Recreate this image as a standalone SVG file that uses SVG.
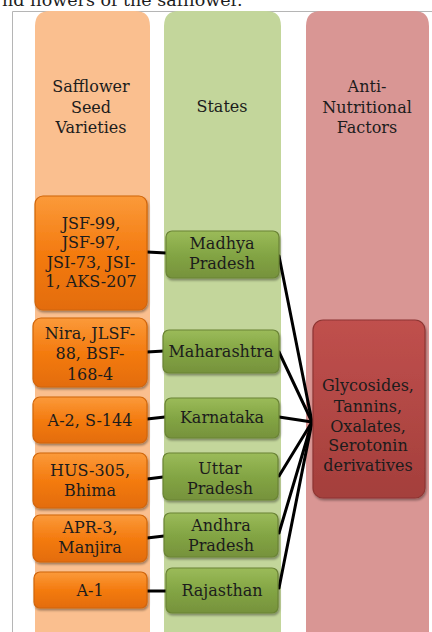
<svg xmlns="http://www.w3.org/2000/svg" width="432" height="632" viewBox="0 0 432 632">
<defs>
<linearGradient id="gO" x1="0" y1="0" x2="0" y2="1"><stop offset="0" stop-color="#FB9A3A"/><stop offset="0.5" stop-color="#F47B10"/><stop offset="1" stop-color="#E36C09"/></linearGradient>
<linearGradient id="gG" x1="0" y1="0" x2="0" y2="1"><stop offset="0" stop-color="#9BBB59"/><stop offset="0.5" stop-color="#83A544"/><stop offset="1" stop-color="#76923C"/></linearGradient>
<linearGradient id="gR" x1="0" y1="0" x2="0" y2="1"><stop offset="0" stop-color="#C0504D"/><stop offset="1" stop-color="#A43F3C"/></linearGradient>
<filter id="sh" x="-10%" y="-10%" width="130%" height="130%"><feDropShadow dx="1" dy="2" stdDeviation="1.2" flood-color="#000" flood-opacity="0.35"/></filter>
</defs>
<style>
text{font-family:"DejaVu Serif","Liberation Serif",serif;fill:#1c1c1c;text-anchor:middle;font-size:16px}
.ob{fill:url(#gO);stroke:#D0650A;stroke-width:1.2;filter:url(#sh)}
.gb{fill:url(#gG);stroke:#6A8435;stroke-width:1.2;filter:url(#sh)}
.rb{fill:url(#gR);stroke:#8E3532;stroke-width:1.2;filter:url(#sh)}
.c{stroke:#000;stroke-width:3;fill:none;stroke-linecap:round}
</style>
<rect width="432" height="632" fill="#fff"/>
<text x="2" y="6" style="text-anchor:start;font-size:17.5px">nd flowers of the safflower.</text>
<path d="M12.5 632 V11.5 H432" fill="none" stroke="#b5b5b5" stroke-width="1"/>
<g id="col-varieties">
<path d="M35 632 V26 Q35 11 50 11 H135 Q150 11 150 26 V632 Z" fill="#FABF8F"/>
<text x="91" y="92">Safflower</text>
<text x="91" y="113">Seed</text>
<text x="91" y="133">Varieties</text>
</g>
<g id="col-states">
<path d="M164 632 V26 Q164 11 179 11 H266 Q281 11 281 26 V632 Z" fill="#C3D69B"/>
<text x="222" y="112">States</text>
</g>
<g id="col-factors">
<path d="M306 632 V26 Q306 11 321 11 H414 Q429 11 429 26 V632 Z" fill="#D99694"/>
<text x="367" y="92">Anti-</text>
<text x="367" y="113">Nutritional</text>
<text x="367" y="133">Factors</text>
</g>
<g id="connectors">
<line class="c" x1="147" y1="252" x2="166" y2="253"/>
<line class="c" x1="147" y1="352" x2="164" y2="351"/>
<line class="c" x1="147" y1="419" x2="165" y2="417"/>
<line class="c" x1="147" y1="479" x2="163" y2="477"/>
<line class="c" x1="147" y1="538" x2="164" y2="536"/>
<line class="c" x1="147" y1="591" x2="166" y2="591"/>
<line class="c" x1="279" y1="256" x2="312" y2="422"/>
<line class="c" x1="279" y1="352" x2="312" y2="422"/>
<line class="c" x1="279" y1="417" x2="312" y2="422"/>
<line class="c" x1="279" y1="476" x2="312" y2="422"/>
<line class="c" x1="279" y1="533" x2="312" y2="422"/>
<line class="c" x1="279" y1="588" x2="312" y2="422"/>
</g>
<g id="v1"><rect class="ob" x="35" y="196" width="112" height="114" rx="8"/>
<text x="91" y="229">JSF-99,</text><text x="91" y="248">JSF-97,</text><text x="91" y="268">JSI-73,  JSI-</text><text x="91" y="287">1, AKS-207</text></g>
<g id="v2"><rect class="ob" x="33" y="318" width="114" height="69" rx="8"/>
<text x="90" y="339">Nira, JLSF-</text><text x="90" y="359">88, BSF-</text><text x="90" y="380">168-4</text></g>
<g id="v3"><rect class="ob" x="33" y="397" width="114" height="46" rx="7"/>
<text x="90" y="426">A-2, S-144</text></g>
<g id="v4"><rect class="ob" x="33" y="453" width="114" height="55" rx="7"/>
<text x="90" y="476">HUS-305,</text><text x="90" y="496">Bhima</text></g>
<g id="v5"><rect class="ob" x="33" y="515" width="114" height="47" rx="7"/>
<text x="90" y="533">APR-3,</text><text x="90" y="553">Manjira</text></g>
<g id="v6"><rect class="ob" x="34" y="572" width="113" height="36" rx="6"/>
<text x="90" y="596">A-1</text></g>
<g id="s1"><rect class="gb" x="166" y="231" width="113" height="47" rx="6"/>
<text x="222" y="249">Madhya</text><text x="222" y="269">Pradesh</text></g>
<g id="s2"><rect class="gb" x="163" y="330" width="116" height="43" rx="6"/>
<text x="221" y="357">Maharashtra</text></g>
<g id="s3"><rect class="gb" x="165" y="398" width="114" height="40" rx="6"/>
<text x="222" y="423">Karnataka</text></g>
<g id="s4"><rect class="gb" x="163" y="453" width="115" height="47" rx="6"/>
<text x="220" y="474">Uttar</text><text x="220" y="494">Pradesh</text></g>
<g id="s5"><rect class="gb" x="164" y="513" width="114" height="44" rx="6"/>
<text x="221" y="531">Andhra</text><text x="221" y="551">Pradesh</text></g>
<g id="s6"><rect class="gb" x="166" y="568" width="112" height="45" rx="6"/>
<text x="222" y="596">Rajasthan</text></g>
<g id="f1"><rect class="rb" x="313" y="320" width="112" height="178" rx="10"/>
<text x="368" y="391">Glycosides,</text><text x="368" y="412">Tannins,</text><text x="368" y="432">Oxalates,</text><text x="368" y="451">Serotonin</text><text x="368" y="471">derivatives</text></g>
</svg>
